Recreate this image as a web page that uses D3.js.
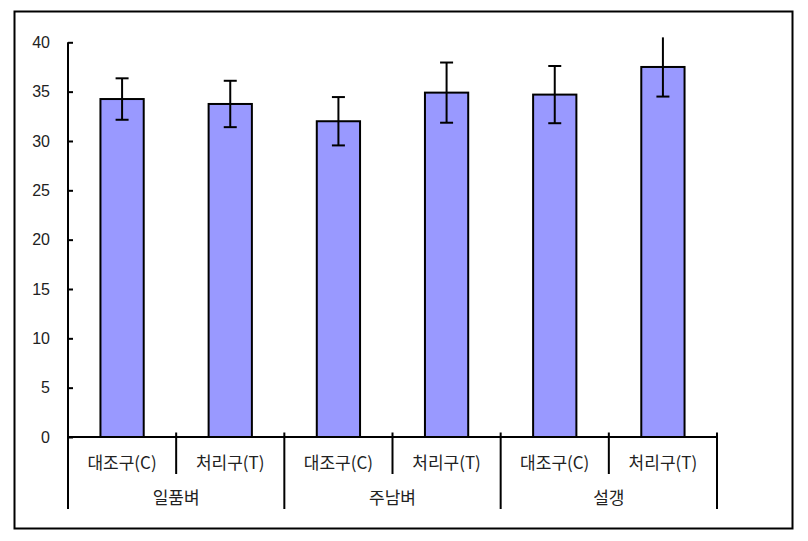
<!DOCTYPE html>
<html><head><meta charset="utf-8">
<script src="https://cdn.jsdelivr.net/npm/d3@7"></script>
<style>body{margin:0;background:#fff}svg{display:block}</style>
</head><body>
<svg id="c" width="808" height="541"></svg>
<script>
const groups = ["일품벼", "주남벼", "설갱"];
const treatments = ["대조구(C)", "처리구(T)"];
const means = [34.25, 33.75, 32.0, 34.9, 34.7, 37.5];
const errors = [2.1, 2.35, 2.45, 3.05, 2.9, 3.0];
const yTicks = [0, 5, 10, 15, 20, 25, 30, 35, 40];

const keys = [];
groups.forEach(g => treatments.forEach(t => keys.push(g + "|" + t)));
const data = keys.map((k, i) => ({key: k, group: k.split("|")[0], treat: k.split("|")[1], v: means[i], e: errors[i]}));

const svg = d3.select("#c");
const font = "'Noto Sans CJK KR', 'Noto Sans', sans-serif";
const numFont = "'Liberation Sans', Arial, sans-serif";
const L = 68, R = 717, T = 42.3, B = 437;

svg.append("rect").attr("x", 14.5).attr("y", 11.5).attr("width", 778).attr("height", 517)
  .attr("fill", "none").attr("stroke", "#000").attr("stroke-width", 2);

const x = d3.scaleBand().domain(keys).range([L, R]).paddingInner(0).paddingOuter(0);
const y = d3.scaleLinear().domain([0, 40]).range([B, T]);

// y axis
const ya = svg.append("g").attr("transform", `translate(${L},0)`)
  .call(d3.axisLeft(y).tickValues(yTicks).tickSize(-5).tickPadding(18).tickFormat(d3.format("d")));
ya.select(".domain").remove();
ya.selectAll(".tick line").attr("stroke", "#000").attr("stroke-width", 2);
ya.selectAll("text").attr("font-family", numFont).attr("font-size", 16).attr("fill", "#222");
svg.append("line").attr("x1", L).attr("x2", L).attr("y1", y(40)).attr("y2", B)
  .attr("stroke", "#000").attr("stroke-width", 2);

// bars
const bw = x.bandwidth() * 0.4;
svg.selectAll("rect.bar").data(data).join("rect").attr("class", "bar")
  .attr("x", d => x(d.key) + (x.bandwidth() - bw) / 2)
  .attr("y", d => y(d.v)).attr("width", bw).attr("height", d => B - y(d.v))
  .attr("fill", "#9999FF").attr("stroke", "#000").attr("stroke-width", 2);

// error bars
const eg = svg.append("g").attr("stroke", "#000").attr("stroke-width", 2);
data.forEach(d => {
  const cx = x(d.key) + x.bandwidth() / 2;
  eg.append("line").attr("x1", cx).attr("x2", cx).attr("y1", y(d.v - d.e)).attr("y2", y(d.v + d.e));
  eg.append("line").attr("x1", cx - 6.5).attr("x2", cx + 6.5).attr("y1", y(d.v - d.e)).attr("y2", y(d.v - d.e));
  if (d.v + d.e <= 40)
    eg.append("line").attr("x1", cx - 6.5).attr("x2", cx + 6.5).attr("y1", y(d.v + d.e)).attr("y2", y(d.v + d.e));
});

// x axis
svg.append("line").attr("x1", L).attr("x2", R).attr("y1", B).attr("y2", B)
  .attr("stroke", "#000").attr("stroke-width", 2);
const ax = svg.append("g").attr("stroke", "#000").attr("stroke-width", 2);
keys.forEach((k, i) => {
  const xr = x(k) + x.bandwidth();
  const isGroupEnd = (i % treatments.length) === treatments.length - 1;
  ax.append("line").attr("x1", xr).attr("x2", xr).attr("y1", B - 4.5).attr("y2", isGroupEnd ? 509 : 474);
});
ax.append("line").attr("x1", L).attr("x2", L).attr("y1", B).attr("y2", 509);

svg.selectAll("text.cat").data(data).join("text").attr("class", "cat")
  .attr("x", d => x(d.key) + x.bandwidth() / 2).attr("y", 463).attr("dy", "0.35em")
  .attr("text-anchor", "middle").attr("font-family", font).attr("font-size", 17).attr("fill", "#222")
  .text(d => d.treat);

svg.selectAll("text.grp").data(groups).join("text").attr("class", "grp")
  .attr("x", g => (x(g + "|" + treatments[0]) + x(g + "|" + treatments[treatments.length - 1]) + x.bandwidth()) / 2)
  .attr("y", 498).attr("dy", "0.35em")
  .attr("text-anchor", "middle").attr("font-family", font).attr("font-size", 17).attr("fill", "#222")
  .text(g => g);
</script>
</body></html>
